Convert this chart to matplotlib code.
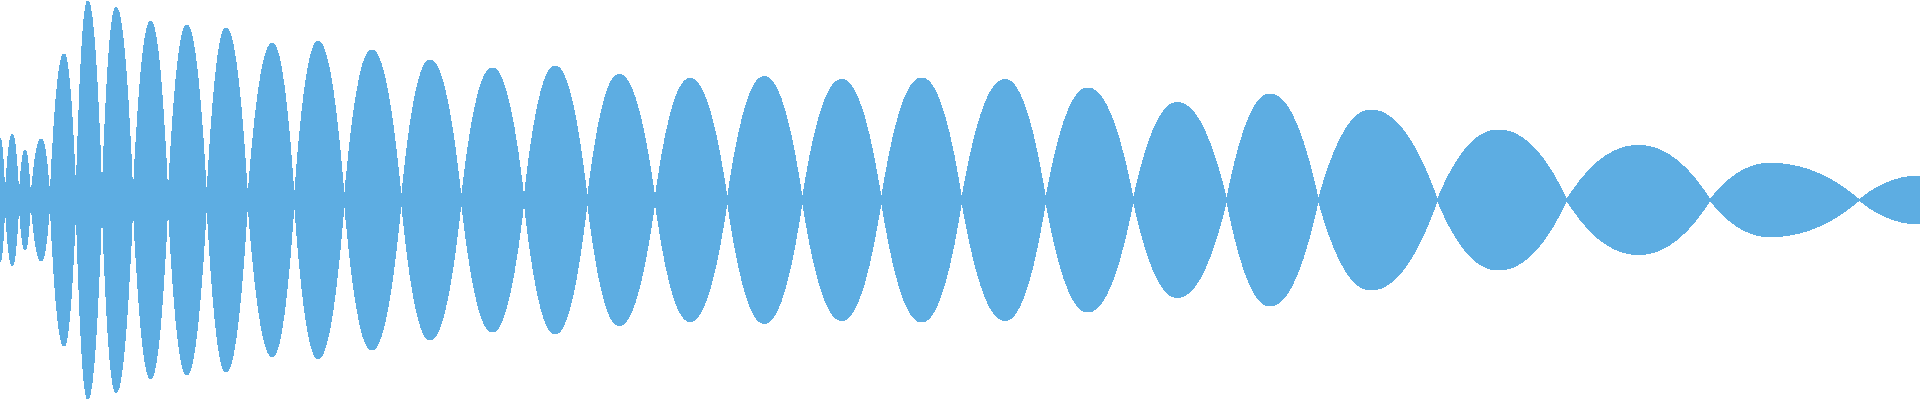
import numpy as np
import matplotlib
matplotlib.use("Agg")
import matplotlib.pyplot as plt
from matplotlib.path import Path
from matplotlib.patches import PathPatch

# extrema of the waveform envelope (x position, amplitude)
peak_x = [0, 12.3, 25, 41.3, 64, 87.7, 116, 150.7, 186.7, 226, 272.3, 318,
          371.7, 430, 492.3, 555, 619, 690, 764.3, 841.7, 921.7, 1005, 1087.7,
          1177.3, 1270, 1370.7, 1498.3, 1638.3, 1770, 1920]
peak_amp = [62, 65.5, 50, 61, 146, 199, 192.5, 178.5, 175, 172, 156.5, 158.5,
            150, 140, 132, 134, 125.5, 121.5, 123.5, 120.5, 122, 120.5, 112,
            97.5, 106, 90, 70, 54.5, 36.7, 24]
# zero crossings between consecutive extrema
cross_x = [5, 19, 30.7, 50, 76, 102, 133, 168, 206.7, 247.7, 294.3, 344.3,
           401.3, 461.3, 524, 587.3, 655, 727.3, 802.3, 881.3, 961.7, 1045.7,
           1133.3, 1226.7, 1318.3, 1437.3, 1566.7, 1710, 1859.3]

color = "#5DADE2"
k = 0.7  # half lobes are close to parabolas (k = 2/3)

# envelope knots: peak, crossing, peak, crossing, ...
knots = []
for i in range(len(peak_x)):
    knots.append((peak_x[i], peak_amp[i]))
    if i < len(cross_x):
        knots.append((cross_x[i], 0.0))

verts = [knots[0]]
for (x0, y0), (x1, y1) in zip(knots[:-1], knots[1:]):
    d = (x1 - x0) / 3.0
    if y0 == 0:
        verts += [(x0 + d, k * y1), (x1 - d, y1), (x1, y1)]
    else:
        verts += [(x0 + d, y0), (x1 - d, k * y0), (x1, y1)]
verts = np.array(verts)

# mirror the envelope below the axis and close the outline
lower = verts[::-1].copy()
lower[:, 1] *= -1

n = len(verts)
codes = [Path.MOVETO] + [Path.CURVE4] * (n - 1)
codes += [Path.LINETO] + [Path.CURVE4] * (n - 1) + [Path.CLOSEPOLY]
all_verts = np.vstack([verts, lower, verts[:1]])

fig = plt.figure(figsize=(19.2, 4), dpi=100)
ax = fig.add_axes([0, 0, 1, 1])
ax.add_patch(PathPatch(Path(all_verts, codes), facecolor=color, edgecolor="none",
                       antialiased=False))
ax.set_xlim(0, 1920)
ax.set_ylim(-200, 200)
ax.axis("off")
fig.savefig("out.png", dpi=100, facecolor="white")
